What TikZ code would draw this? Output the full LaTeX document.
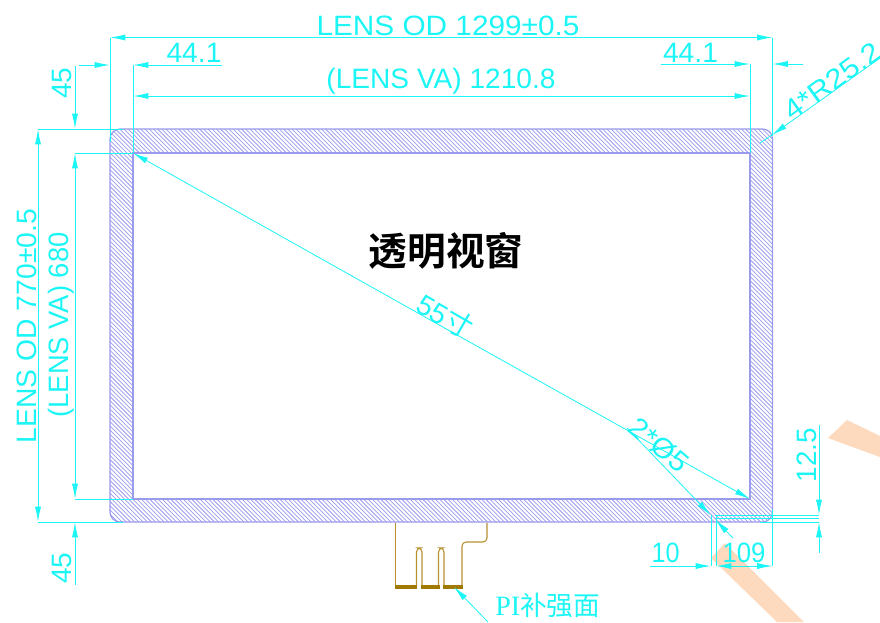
\documentclass[tikz,border=0pt]{standalone}
\usepackage{fontspec}
\usepackage{graphicx}
\setmainfont{Liberation Sans}
\newfontfamily\cjk{Noto Sans CJK SC}
\newfontfamily\cjkb{Noto Sans CJK SC Bold}
\newfontfamily\pserif{Liberation Serif}
\usetikzlibrary{arrows.meta}
\definecolor{dimc}{HTML}{1CF5F5}
\definecolor{hatchc}{HTML}{9A9AEE}
\definecolor{flexc}{HTML}{B8912E}
\definecolor{barc}{HTML}{A07A00}
\definecolor{stripec}{HTML}{FDD9BD}
\newcommand{\fitw}[2]{\resizebox{\dimexpr #1pt*3/4\relax}{\height}{#2}}
\tikzset{
  dimline/.style={draw=dimc,line width=0.75pt},
  thinline/.style={draw=dimc,line width=0.6pt},
  tip/.style={dimline,-{Latex[length=11.5pt,width=4.6pt]}},
  thintip/.style={thinline,-{Latex[length=11.5pt,width=4.6pt]}},
  dimtext/.style={text=dimc,font=\fontsize{21}{21}\selectfont,inner sep=0pt,anchor=center},
  hatchline/.style={draw=hatchc,line width=0.55pt},
  flexline/.style={draw=flexc,line width=0.8pt,rounded corners=3pt},
  barfill/.style={fill=barc,draw=none},
  stripe/.style={fill=stripec,draw=none}
}
\begin{document}
\begin{tikzpicture}[x=0.75pt,y=-0.75pt]
\useasboundingbox (0,0) rectangle (880,622);
% pale stripes
\fill[stripe] (847,420) -- (828,438) -- (880,457) -- (880,436) -- cycle;
\fill[stripe] (725,543) -- (711,558) -- (777,622) -- (804,622) -- cycle;
% hatched frame
\begin{scope}
  \clip[rounded corners=7.5pt] (110,129) rectangle (772.5,522);
  \foreach \i in {0,...,255} {
    \draw[hatchline] ({110+\i*4.2},522.5) -- ({110+\i*4.2-394},128.5);
  }
\end{scope}
\fill[white] (133,153) rectangle (750,499);
\draw[draw=hatchc,line width=0.9pt,rounded corners=7.5pt] (110,129) rectangle (772.5,522);
\draw[draw=hatchc,line width=0.9pt] (133,153) rectangle (750,499);
% flex tail
\draw[flexline] (395.5,523) -- (395.5,586);
\draw[flexline] (416.5,586) -- (416.5,548) -- (422,548) -- (422,586);
\draw[flexline] (438.5,586) -- (438.5,548) -- (444,548) -- (444,586);
\draw[flexline] (462,586) -- (462,542) -- (487,542) -- (487,523);
\fill[barfill] (395,585) rectangle (417,589);
\fill[barfill] (421,585) rectangle (440,589);
\fill[barfill] (443,585) rectangle (462.5,589);
% overall width
\coordinate (tl) at (110,37.5); \coordinate (tr) at (772.5,37.5);
\draw[dimline] (tl) -- (110,142);
\draw[dimline] (tr) -- (772.5,136);
\draw[tip] (448,37.5) -- (tl);
\draw[tip] (448,37.5) -- (tr);
\node[dimtext] (odw) at (448,26) {\fitw{263}{LENS OD 1299±0.5}};
% 44.1 left
\draw[tip] (79,65) -- (110,65);
\draw[tip] (222,65) -- (133,65);
\node[dimtext] (wa) at (194,53) {\fitw{55}{44.1}};
% 44.1 right
\draw[tip] (661,64) -- (750,64);
\draw[tip] (803,64) -- (772.5,64);
\node[dimtext] (wb) at (690.5,53) {\fitw{55}{44.1}};
% VA width
\coordinate (val) at (133,96); \coordinate (var) at (750,96);
\draw[dimline] (133,65) -- (133,153);
\draw[dimline] (750,64) -- (750,153);
\draw[tip] (441,96) -- (val);
\draw[tip] (441,96) -- (var);
\node[dimtext] (vaw) at (441,81.5) {\fitw{229}{(LENS VA) 1210.8}};
% left extension lines
\draw[dimline] (38,129) -- (123,129);
\draw[dimline] (75,153) -- (133,153);
\draw[dimline] (75,499) -- (133,499);
\draw[dimline] (38,522) -- (123,522);
% overall height
\draw[tip] (38,325) -- (38,129);
\draw[tip] (38,325) -- (38,522);
\node[dimtext,rotate=90] (odh) at (27,326) {\fitw{234}{LENS OD 770±0.5}};
% VA height
\draw[tip] (75,325) -- (75,153);
\draw[tip] (75,325) -- (75,499);
\node[dimtext,rotate=90] (vah) at (61,325) {\fitw{185}{(LENS VA) 680}};
% 45 upper and lower
\draw[tip] (75,66) -- (75,129);
\node[dimtext,rotate=90] (ua) at (62,83) {45};
\draw[tip] (75,585) -- (75,522);
\node[dimtext,rotate=90] (ub) at (62,568) {45};
% R leader
\coordinate (ra) at (772,135); \coordinate (rb) at (880,58); \coordinate (rc) at (760,143);
\draw[thintip] (rb) -- (ra);
\draw[thinline] (ra) -- (rc);
\node[dimtext,rotate=36] (rt) at (832,81) {\fitw{112}{4*R25.2}};
% diagonal
\coordinate (da) at (133,153); \coordinate (db) at (750,499);
\draw[thintip] (441,326) -- (da);
\draw[thintip] (441,326) -- (db);
\node[dimtext,rotate=-30] (dt) at (445,316) {55{\cjk 寸}};
% hole leader
\coordinate (ha) at (627,428); \coordinate (hb) at (710.5,515); \coordinate (hc) at (733,538); \coordinate (hd) at (715.5,520);
\draw[thintip] (ha) -- (hb);
\draw[thintip] (hc) -- (hd);
\node[dimtext,rotate=-40] (ht) at (659,445) {\fitw{68}{2*Ø5}};
% bottom dims
\draw[thinline] (711,515) -- (711,566);
\draw[thinline] (716,515) -- (716,566);
\draw[thinline] (772.5,510) -- (772.5,566);
\draw[tip] (650,566) -- (711,566);
\draw[tip] (745,566) -- (716,566);
\draw[tip] (745,566) -- (772.5,566);
\node[dimtext] (ten) at (665.5,553) {\fitw{28}{10}};
\node[dimtext] (ohn) at (744,553) {\fitw{43}{109}};
% 12.5
\draw[thinline] (715,515) -- (819,515);
\draw[thinline] (716,518) -- (819,518);
\draw[thinline] (760,522) -- (819,522);
\draw[tip] (819,425) -- (819,515);
\draw[tip] (819,553) -- (819,522);
\node[dimtext,rotate=90] (twv) at (807,455) {\fitw{54}{12.5}};
% PI label
\coordinate (pa) at (488,622); \coordinate (pb) at (454,587);
\draw[thintip] (pa) -- (pb);
\node[text=dimc,inner sep=0pt,anchor=west,font=\fontsize{21}{21}\selectfont] (pi) at (495,605) {\pserif PI\cjk\fontsize{20}{20}\selectfont 补强面};
% title
\node[inner sep=0pt,text=black,font=\fontsize{29}{29}\selectfont] (title) at (446,251) {\cjkb 透明视窗};
\end{tikzpicture}
\end{document}
